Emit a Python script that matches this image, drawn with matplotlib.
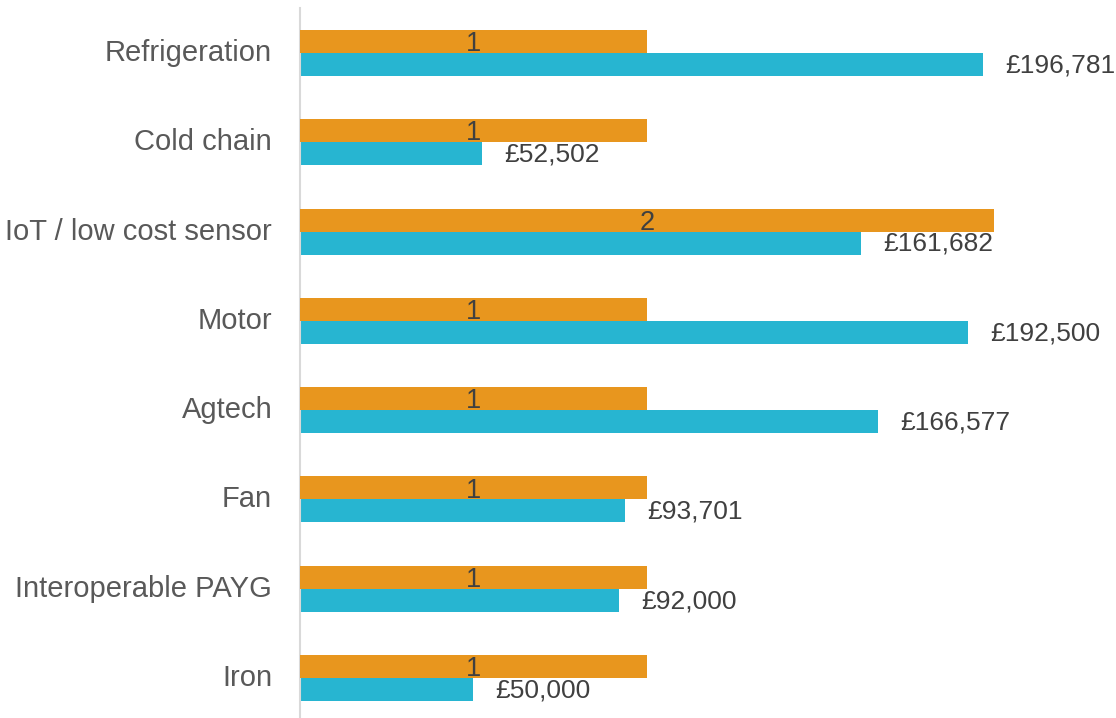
import matplotlib.pyplot as plt
from matplotlib.transforms import ScaledTranslation

plt.rcParams['font.family'] = ['Liberation Sans', 'DejaVu Sans']

categories = ['Refrigeration', 'Cold chain', 'IoT / low cost sensor', 'Motor',
              'Agtech', 'Fan', 'Interoperable PAYG', 'Iron']
counts = [1, 1, 2, 1, 1, 1, 1, 1]
amounts = [196781, 52502, 161682, 192500, 166577, 93701, 92000, 50000]

orange = '#E8961E'
blue = '#27B5D1'
txt = '#404040'

fig = plt.figure(figsize=(11.16, 7.18), dpi=100)
ax = fig.add_axes([300 / 1116, 0, 800 / 1116, 710 / 718])
ax2 = ax.twiny()

pos = list(range(len(categories)))
h = 0.2576

ax.barh([p + h / 2 for p in pos], amounts, height=h, color=blue)
ax2.barh([p - h / 2 for p in pos], counts, height=h, color=orange)

ax.set_xlim(0, 230560)
ax2.set_xlim(0, 2.305)
ax.set_ylim(7.448, -0.504)

for p, a in zip(pos, amounts):
    ax.text(a + 22 * 288.2, p + h / 2 + 0.01, f'£{a:,}', va='center', ha='left',
            fontsize=19, color=txt)
for p, c in zip(pos, counts):
    ax2.text(c / 2, p - h / 2 + 0.03, str(c), va='center', ha='center',
             fontsize=19.5, color=txt)

ax.set_yticks(pos)
ax.set_yticklabels(categories, fontsize=21, color='#595959')
ax.tick_params(axis='y', length=0, pad=20)
shift = ScaledTranslation(0, 3 / 100, fig.dpi_scale_trans)
for lab in ax.get_yticklabels():
    lab.set_transform(lab.get_transform() + shift)
ax.set_xticks([])
ax2.set_xticks([])

for a in (ax, ax2):
    for s in ('top', 'right', 'bottom'):
        a.spines[s].set_visible(False)
ax2.spines['left'].set_visible(False)
ax.spines['left'].set_color('#D9D9D9')
ax.spines['left'].set_linewidth(1.5)

fig.savefig('out.png', dpi=100)
